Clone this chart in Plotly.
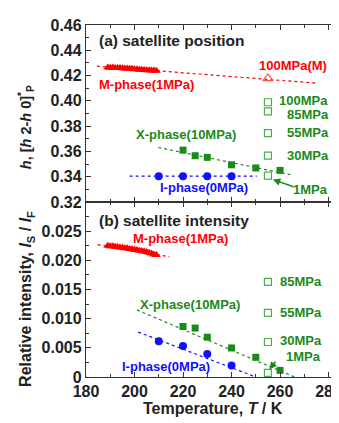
import plotly.graph_objects as go
from plotly.subplots import make_subplots

# ---------------- data ----------------
# (a) satellite position / (b) satellite intensity
m_T = [189, 190, 191, 192, 193, 194, 195, 196, 197, 198, 199, 200, 201, 202, 203, 204, 205, 206, 207, 208, 209]
m_pos = [0.4263, 0.4261, 0.4263, 0.4260, 0.4259, 0.4259, 0.4257, 0.4256, 0.4256, 0.4253, 0.4253, 0.4250,
         0.4250, 0.4247, 0.4247, 0.4245, 0.4243, 0.4243, 0.4240, 0.4240, 0.4238]
m_int = [0.02250, 0.02243, 0.02240, 0.02232, 0.02230, 0.02220, 0.02216, 0.02208, 0.02205, 0.02195, 0.02190,
         0.02180, 0.02176, 0.02166, 0.02160, 0.02150, 0.02142, 0.02128, 0.02118, 0.02100, 0.02090]

x_T = [220, 225, 230, 240, 250, 260]
x_pos = [0.3610, 0.3566, 0.3553, 0.3494, 0.3469, 0.3450]
x_int = [0.00866, 0.00839, 0.00682, 0.00498, 0.00338, 0.00114]

i_T = [210, 220, 230, 240]
i_pos = [0.3404, 0.3404, 0.3404, 0.3404]
i_int = [0.00615, 0.00531, 0.00393, 0.00197]

p_T = [255, 255, 255, 255, 255]
p_labels = ["100MPa", "85MPa", "55MPa", "30MPa", "1MPa"]
p_pos = [0.3989, 0.3917, 0.3744, 0.3566, 0.3409]
p_int_T = [255, 255, 255, 255]
p_int = [0.0163, 0.0110, 0.0060, 0.0007]

mh_T = [255]
mh_pos = [0.4177]

# fitted guide lines (end points)
m_fit_T = [184.5, 275]
m_fit_pos = [0.4275, 0.4140]
x_fit_T = [209.8, 265.4]
x_fit_pos = [0.3631, 0.3411]
i_fit_T = [198, 250.4]
i_fit_pos = [0.3404, 0.3404]

m_fit_T2 = [184.8, 214.4]
m_fit_int = [0.0227, 0.0206]
x_fit_T2 = [201, 266]
x_fit_int = [0.0115, 0.0]
i_fit_T2 = [201.5, 250]
i_fit_int = [0.0077, 0.0]

top_ticks = [0.32, 0.34, 0.36, 0.38, 0.40, 0.42, 0.44, 0.46]
top_ticktext = ["0.32", "0.34", "0.36", "0.38", "0.40", "0.42", "0.44", "0.46"]
bot_ticks = [0, 0.005, 0.010, 0.015, 0.020, 0.025]
bot_ticktext = ["0", "0.005", "0.010", "0.015", "0.020", "0.025"]
x_ticks = [180, 200, 220, 240, 260, 280]

RED = "#ff0000"
GREEN = "#1a8a1a"
LGREEN = "#4cae4c"
BLUE = "#1010ff"
FONT = "Liberation Sans, Arial, sans-serif"

fig = make_subplots(rows=2, cols=1, shared_xaxes=True, vertical_spacing=0)

def line(xs, ys, color, row):
    fig.add_trace(go.Scatter(x=xs, y=ys, mode="lines",
                             line=dict(color=color, width=1.2, dash="dot"),
                             showlegend=False, hoverinfo="skip"), row=row, col=1)

def pts(xs, ys, color, symbol, size, row):
    if symbol.endswith("-open"):
        mk = dict(symbol=symbol, size=size, color=color, line=dict(width=1.2))
    else:
        mk = dict(symbol=symbol, size=size, color=color, line=dict(width=0))
    fig.add_trace(go.Scatter(x=xs, y=ys, mode="markers", marker=mk, showlegend=False), row=row, col=1)

# top panel
line(m_fit_T, m_fit_pos, RED, 1)
line(x_fit_T, x_fit_pos, GREEN, 1)
line(i_fit_T, i_fit_pos, BLUE, 1)
pts(m_T, m_pos, RED, "triangle-up", 8, 1)
pts(x_T, x_pos, GREEN, "square", 7, 1)
pts(i_T, i_pos, BLUE, "circle", 8, 1)
pts(p_T, p_pos, LGREEN, "square-open", 7, 1)
pts(mh_T, mh_pos, "#ff5050", "triangle-up-open", 9, 1)

# bottom panel
line(m_fit_T2, m_fit_int, RED, 2)
line(x_fit_T2, x_fit_int, GREEN, 2)
line(i_fit_T2, i_fit_int, BLUE, 2)
pts(m_T, m_int, RED, "triangle-up", 8, 2)
pts(x_T, x_int, GREEN, "square", 7, 2)
pts(i_T, i_int, BLUE, "circle", 8, 2)
pts(p_int_T, p_int, LGREEN, "square-open", 7, 2)

axis_common = dict(showline=True, linecolor="#333333", linewidth=1.3, mirror="allticks",
                   ticks="inside", ticklen=5, tickwidth=1.2, tickcolor="#333333",
                   showgrid=False, zeroline=False,
                   tickfont=dict(family=FONT, size=16, color="#222222", weight="bold"))

fig.update_xaxes(range=[180, 284.3], tickvals=x_ticks, **axis_common,
                 minor=dict(ticks="inside", dtick=10, tick0=180, ticklen=3, tickcolor="#333333", showgrid=False))
fig.update_xaxes(showticklabels=False, row=1, col=1)
fig.update_yaxes(**axis_common)
fig.update_yaxes(range=[0.32, 0.46], tickvals=top_ticks, ticktext=top_ticktext,
                 minor=dict(ticks="inside", dtick=0.01, tick0=0.32, ticklen=3, tickcolor="#333333"),
                 row=1, col=1)
fig.update_yaxes(range=[0, 0.03], tickvals=bot_ticks, ticktext=bot_ticktext,
                 minor=dict(ticks="inside", dtick=0.0025, tick0=0, ticklen=3, tickcolor="#333333"),
                 row=2, col=1)

fig.update_layout(yaxis=dict(domain=[0.4972, 1]), yaxis2=dict(domain=[0, 0.4972]))

ann = []
def txt(x, y, s, color, xref, yref, size=13, xanchor="left"):
    ann.append(dict(x=x, y=y, xref=xref, yref=yref, text="<b>" + s + "</b>", showarrow=False,
                    xanchor=xanchor, yanchor="middle",
                    font=dict(family=FONT, size=size, color=color)))

# top annotations
txt(184.5, 0.4476, "(a) satellite position", "#222222", "x", "y", size=15.5)
txt(265.2, 0.4283, "100MPa(M)", RED, "x", "y", xanchor="center")
txt(184.5, 0.4128, "M-phase(1MPa)", RED, "x", "y")
txt(258.8, 0.4004, p_labels[0], GREEN, "x", "y")
txt(262.1, 0.3894, p_labels[1], GREEN, "x", "y")
txt(262.1, 0.3749, p_labels[2], GREEN, "x", "y")
txt(262.1, 0.3571, p_labels[3], GREEN, "x", "y")
txt(272.4, 0.3301, p_labels[4], GREEN, "x", "y", xanchor="center")
txt(199.8, 0.3734, "X-phase(10MPa)", GREEN, "x", "y")
txt(209.7, 0.3316, "I-phase(0MPa)", BLUE, "x", "y")

# bottom annotations
txt(184.5, 0.02688, "(b) satellite intensity", "#222222", "x2", "y2", size=15.5)
txt(198.6, 0.02381, "M-phase(1MPa)", RED, "x2", "y2")
txt(259.2, 0.0163, p_labels[1], GREEN, "x2", "y2")
txt(259.2, 0.0110, p_labels[2], GREEN, "x2", "y2")
txt(259.2, 0.00627, p_labels[3], GREEN, "x2", "y2")
txt(269.5, 0.00343, p_labels[4], GREEN, "x2", "y2", xanchor="center")
txt(201.4, 0.0124, "X-phase(10MPa)", GREEN, "x2", "y2")
txt(194.0, 0.0018, "I-phase(0MPa)", BLUE, "x2", "y2")

# arrows
ann.append(dict(x=257.0, y=0.3378, ax=266.2, ay=0.3316, xref="x", yref="y", axref="x", ayref="y",
                text="", showarrow=True, arrowhead=2, arrowsize=1, arrowwidth=1.5, arrowcolor=GREEN))
ann.append(dict(x=255.6, y=0.0013, ax=258.6, ay=0.0029, xref="x2", yref="y2", axref="x2", ayref="y2",
                text="", showarrow=True, arrowhead=2, arrowsize=1, arrowwidth=1.5, arrowcolor=GREEN))

# axis titles
ann.append(dict(x=-0.237, y=0.7097, xref="paper", yref="paper", textangle=-90, showarrow=False,
                xanchor="center", yanchor="middle",
                text="<b><i>h</i>, [<i>h</i> 2-<i>h</i> 0]<sup>*</sup><sub>P</sub></b>",
                font=dict(family=FONT, size=14.5, color="#222222")))
ann.append(dict(x=-0.233, y=0.222, xref="paper", yref="paper", textangle=-90, showarrow=False,
                xanchor="center", yanchor="middle",
                text="<b>Relative intensity, <i>I</i><sub>S</sub> / <i>I</i><sub>F</sub></b>",
                font=dict(family=FONT, size=16, color="#222222")))
ann.append(dict(x=0.5, y=-0.09, xref="paper", yref="paper", showarrow=False,
                xanchor="center", yanchor="middle",
                text="<b>Temperature, <i>T</i> / K</b>",
                font=dict(family=FONT, size=16, color="#222222")))

# the page body adds an 8 px offset, so the margins are shifted to compensate;
# the figure is a little wider so the last tick label is drawn and then cropped by the window
fig.update_layout(width=349, height=423, margin=dict(l=78, r=18, t=9, b=54),
                  paper_bgcolor="white", plot_bgcolor="white", annotations=ann,
                  showlegend=False)

fig.write_html("out.html")
